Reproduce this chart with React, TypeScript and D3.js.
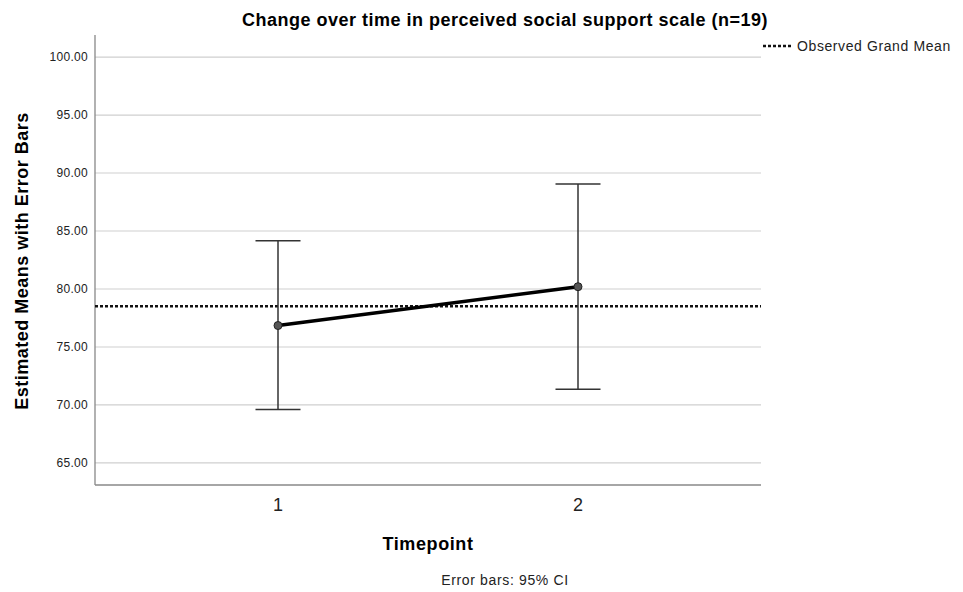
import React from 'react';
import * as d3 from 'd3';

const timepoints = ['1', '2'];
const means = [76.85, 80.2];
const ciLower = [69.6, 71.35];
const ciUpper = [84.15, 89.05];
const grandMean = 78.52;
const yTicks = [65, 70, 75, 80, 85, 90, 95, 100];

const W = 963;
const H = 592;
const font = '"Liberation Sans", Arial, sans-serif';

const App: React.FC = () => {
  const left = 95;
  const right = 761;
  const top = 35;
  const bottom = 485;

  const y = d3.scaleLinear().domain([63.1, 101.9]).range([bottom, top]);
  const x = d3.scalePoint<string>().domain(timepoints).range([left, right]).padding(0.61);

  const pts = timepoints.map((t, i) => ({ t, m: means[i], lo: ciLower[i], hi: ciUpper[i] }));
  const line = d3.line<{ t: string; m: number }>()
    .x(d => x(d.t) as number)
    .y(d => y(d.m));

  return (
    <div style={{ position: 'absolute', left: 0, top: 0 }}>
      <svg width={W} height={H} style={{ display: 'block' }} fontFamily={font}>
        <rect width={W} height={H} fill="#fff" />
        <text x={505} y={26} textAnchor="middle" fontSize={18} fontWeight="bold" letterSpacing={0.5} fill="#000">
          Change over time in perceived social support scale (n=19)
        </text>

        {yTicks.map(v => (
          <g key={v}>
            <line x1={left} x2={right} y1={y(v)} y2={y(v)} stroke="#cfcfcf" strokeWidth={1.2} />
            <text x={88} y={y(v)} dy="0.35em" textAnchor="end" fontSize={12} letterSpacing={0.3} fill="#222">
              {d3.format('.2f')(v)}
            </text>
          </g>
        ))}

        <line x1={left} x2={left} y1={top} y2={bottom} stroke="#888" strokeWidth={1.3} />
        <line x1={left} x2={right} y1={bottom} y2={bottom} stroke="#888" strokeWidth={1.3} />

        {timepoints.map(t => (
          <text key={t} x={x(t)} y={511} textAnchor="middle" fontSize={18} fill="#222">{t}</text>
        ))}

        <line x1={left} x2={right} y1={y(grandMean)} y2={y(grandMean)}
          stroke="#111" strokeWidth={2.5} strokeDasharray="3,2" />

        {pts.map(p => {
          const cx = x(p.t) as number;
          return (
            <g key={p.t} stroke="#333" strokeWidth={1.5}>
              <line x1={cx} x2={cx} y1={y(p.hi)} y2={y(p.lo)} />
              <line x1={cx - 22.5} x2={cx + 22.5} y1={y(p.hi)} y2={y(p.hi)} />
              <line x1={cx - 22.5} x2={cx + 22.5} y1={y(p.lo)} y2={y(p.lo)} />
            </g>
          );
        })}

        <path d={line(pts) || ''} fill="none" stroke="#000" strokeWidth={3.5} />
        {pts.map(p => (
          <circle key={p.t} cx={x(p.t)} cy={y(p.m)} r={4} fill="#555" stroke="#222" strokeWidth={1} />
        ))}

        <text transform={`translate(28,261) rotate(-90)`} textAnchor="middle"
          fontSize={18} fontWeight="bold" letterSpacing={0.5} fill="#000">
          Estimated Means with Error Bars
        </text>
        <text x={428} y={550} textAnchor="middle" fontSize={18} fontWeight="bold" letterSpacing={0.6} fill="#000">
          Timepoint
        </text>
        <text x={505} y={585} textAnchor="middle" fontSize={14} letterSpacing={0.65} fill="#222">
          Error bars: 95% CI
        </text>

        <line x1={763} x2={791} y1={46} y2={46} stroke="#111" strokeWidth={2.5} strokeDasharray="3,2" />
        <text x={797} y={46} dy="0.35em" fontSize={14} letterSpacing={0.6} fill="#222">Observed Grand Mean</text>
      </svg>
    </div>
  );
};

export default App;
